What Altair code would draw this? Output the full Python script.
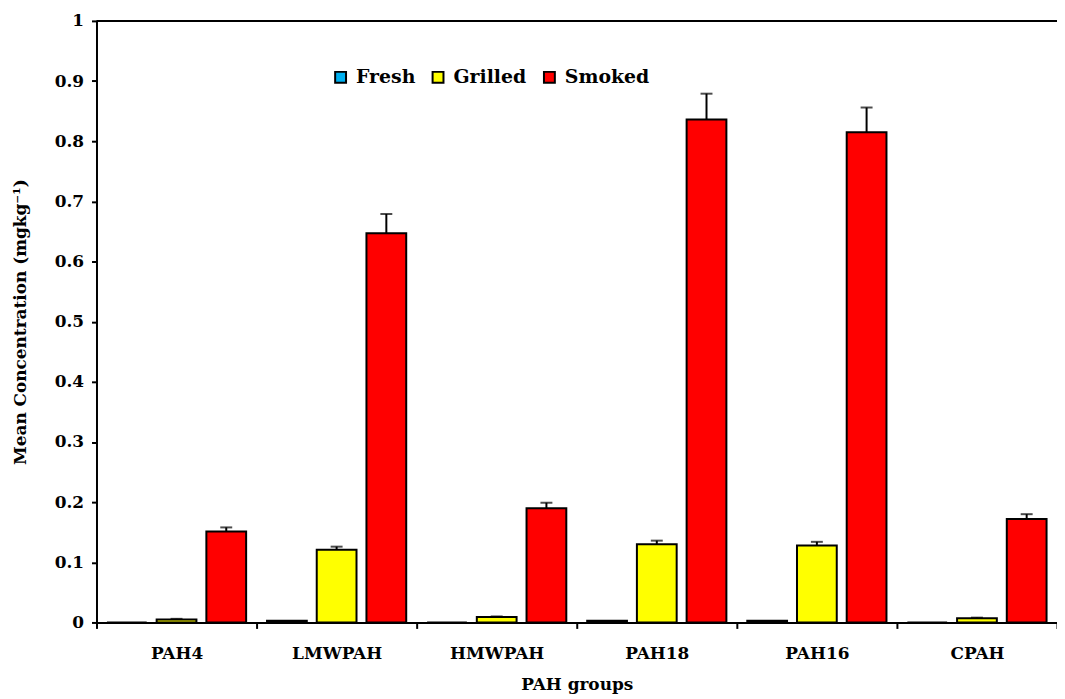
import altair as alt
import pandas as pd

groups = ["PAH4", "LMWPAH", "HMWPAH", "PAH18", "PAH16", "CPAH"]
treatments = ["Fresh", "Grilled", "Smoked"]
fresh = [0.0, 0.003, 0.0, 0.003, 0.003, 0.0]
grilled = [0.005, 0.121, 0.009, 0.130, 0.128, 0.007]
smoked = [0.151, 0.647, 0.190, 0.836, 0.815, 0.172]
fresh_err = [0.0, 0.0, 0.0, 0.0, 0.0, 0.0]
grilled_err = [0.001, 0.005, 0.001, 0.006, 0.006, 0.001]
smoked_err = [0.007, 0.032, 0.009, 0.043, 0.041, 0.008]
colors = ["#00B0F0", "#FFFF00", "#FF0000"]
y_ticks = [0, 0.1, 0.2, 0.3, 0.4, 0.5, 0.6, 0.7, 0.8, 0.9, 1]

rows = []
for t, vals, errs in zip(treatments, [fresh, grilled, smoked], [fresh_err, grilled_err, smoked_err]):
    for g, v, e in zip(groups, vals, errs):
        rows.append({"group": g, "treatment": t, "value": v, "upper": v + e})
df = pd.DataFrame(rows)
err_df = df[df["upper"] > df["value"]]

FONT = "DejaVu Serif"
ytitle = "Mean Concentration (mgkg⁻¹)"
yscale = alt.Scale(domain=[0, 1], nice=False)
yaxis = alt.Axis(values=y_ticks, format="~g", grid=False, tickSize=5, tickWidth=2,
                 labelPadding=8, titlePadding=25)

xenc = alt.X("group:N", sort=groups, title="PAH groups",
             scale=alt.Scale(paddingInner=0, paddingOuter=0),
             axis=alt.Axis(labelAngle=0, tickBand="extent", tickSize=6, tickWidth=2,
                           labelPadding=17, titlePadding=15))
xoff = alt.XOffset("treatment:N", sort=treatments,
                   scale=alt.Scale(paddingInner=0.2, paddingOuter=0.21))

bars = alt.Chart(df).mark_bar(stroke="black", strokeWidth=2).encode(
    x=xenc, xOffset=xoff,
    y=alt.Y("value:Q", scale=yscale, axis=yaxis, title=ytitle),
    color=alt.Color("treatment:N", sort=treatments,
                    scale=alt.Scale(domain=treatments, range=colors),
                    legend=alt.Legend(title=None, orient="none", legendX=236, legendY=47,
                                      direction="horizontal", symbolType="square",
                                      symbolSize=120, symbolStrokeColor="black",
                                      symbolStrokeWidth=2, columnPadding=13,
                                      labelOffset=6)),
)

err = alt.Chart(err_df).mark_rule(color="black", strokeWidth=2).encode(
    x=xenc, xOffset=xoff,
    y=alt.Y("value:Q", scale=yscale, title=ytitle), y2="upper:Q",
)
cap = alt.Chart(err_df).mark_tick(color="black", thickness=2, size=12).encode(
    x=xenc, xOffset=xoff,
    y=alt.Y("upper:Q", scale=yscale, title=ytitle),
)

top_df = pd.DataFrame({"top": [1.0]})
top = alt.Chart(top_df).mark_rule(color="black", strokeWidth=2).encode(
    y=alt.Y("top:Q", scale=yscale, title=ytitle)
)

chart = alt.layer(bars, err, cap, top).properties(
    width=966, height=605,
    autosize=alt.AutoSizeParams(type="none"),
    padding={"left": 89, "top": 11, "right": 0, "bottom": 72},
).configure_view(stroke=None).configure_axis(
    labelFont=FONT, labelFontWeight="bold", labelFontSize=17, labelColor="black",
    titleFont=FONT, titleFontWeight="bold", titleFontSize=17, titleColor="black",
    domainColor="black", domainWidth=2, tickColor="black",
).configure_legend(
    labelFont=FONT, labelFontWeight="bold", labelFontSize=19, labelColor="black",
)

chart.save("out.html", embed_options={"renderer": "svg", "actions": False})
